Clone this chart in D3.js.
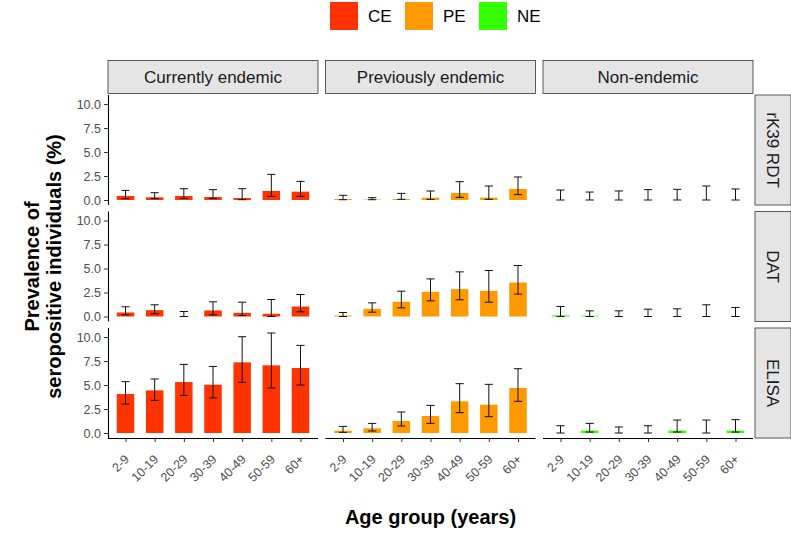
<!DOCTYPE html>
<html>
<head>
<meta charset="utf-8">
<script src="https://cdn.jsdelivr.net/npm/d3@7"></script>
<style>
  body { margin: 0; background: #fff; }
  text { font-family: "Liberation Sans", Arial, sans-serif; }
</style>
</head>
<body>
<script>
// ---- data ----
var ageGroups = ["2-9", "10-19", "20-29", "30-39", "40-49", "50-59", "60+"];
var regions = ["CE", "PE", "NE"];
var regionNames = ["Currently endemic", "Previously endemic", "Non-endemic"];
var tests = ["rK39 RDT", "DAT", "ELISA"];
var regionColors = ["#FF3300", "#FF9900", "#33FF00"];

// prevalence (%) per test, per region
var rk39Prev  = { CE: [0.42, 0.28, 0.42, 0.31, 0.21, 0.94, 0.87], PE: [0.10, 0.05, 0.10, 0.24, 0.73, 0.24, 1.15], NE: [0, 0, 0, 0, 0, 0, 0] };
var rk39Lower = { CE: [0.14, 0.14, 0.17, 0.17, 0.03, 0.38, 0.38], PE: [0.03, 0.03, 0.07, 0.07, 0.28, 0.07, 0.56], NE: [0, 0, 0, 0, 0, 0, 0] };
var rk39Upper = { CE: [1.00, 0.76, 1.18, 1.08, 1.18, 2.67, 1.94], PE: [0.49, 0.24, 0.69, 0.94, 1.91, 1.46, 2.40], NE: [1.04, 0.83, 0.94, 1.08, 1.11, 1.46, 1.15] };

var datPrev  = { CE: [0.42, 0.66, 0, 0.63, 0.38, 0.28, 1.04], PE: [0.10, 0.80, 1.53, 2.57, 2.85, 2.67, 3.54], NE: [0.12, 0.08, 0, 0, 0, 0, 0] };
var datLower = { CE: [0.17, 0.28, 0, 0.17, 0.10, 0, 0.49], PE: [0, 0.45, 0.90, 1.63, 1.74, 1.49, 2.33], NE: [0, 0, 0, 0, 0, 0, 0] };
var datUpper = { CE: [1.01, 1.22, 0.52, 1.53, 1.49, 1.77, 2.29], PE: [0.42, 1.42, 2.64, 3.92, 4.65, 4.79, 5.31], NE: [1.04, 0.59, 0.59, 0.76, 0.80, 1.22, 0.94] };

var elisaPrev  = { CE: [4.06, 4.44, 5.31, 5.03, 7.36, 7.05, 6.77], PE: [0.24, 0.49, 1.25, 1.77, 3.30, 2.95, 4.69], NE: [0, 0.25, 0, 0, 0.25, 0, 0.25] };
var elisaLower = { CE: [3.02, 3.40, 3.92, 3.65, 5.28, 4.69, 5.00], PE: [0.07, 0.21, 0.73, 1.00, 2.12, 1.70, 3.30], NE: [0, 0.10, 0, 0, 0.10, 0, 0.10] };
var elisaUpper = { CE: [5.35, 5.63, 7.15, 6.94, 10.03, 10.42, 9.13], PE: [0.69, 1.00, 2.19, 2.88, 5.14, 5.07, 6.70], NE: [0.76, 1.00, 0.63, 0.76, 1.35, 1.35, 1.39] };

var yTicks = [0, 2.5, 5, 7.5, 10];

var prevByTest = [rk39Prev, datPrev, elisaPrev];
var lowerByTest = [rk39Lower, datLower, elisaLower];
var upperByTest = [rk39Upper, datUpper, elisaUpper];

// ---- layout ----
var width = 791, height = 533;
var panelLeft = 108, panelW = 210, panelGapX = 7.5;
var panelTop = 95, panelH = 110, panelGapY = 6.5;
var stripH = 33, stripW = 36;

var svg = d3.select("body").append("svg")
  .attr("width", width).attr("height", height);

// shared y scale, with ggplot-like 5% expansion
var ymax = d3.max(upperByTest, function(t) { return d3.max(regions, function(r) { return d3.max(t[r]); }); });
var pad = ymax * 0.05;
var y = d3.scaleLinear().domain([-pad, ymax + pad]).range([panelH, 0]);

// discrete x, expand 0.6 of a unit on each side
var x = d3.scaleLinear().domain([0.4, ageGroups.length + 0.6]).range([0, panelW]);
var unit = x(2) - x(1);
var barW = unit * 0.6, capW = unit * 0.28;

regions.forEach(function(reg, ci) {
  var px = panelLeft + ci * (panelW + panelGapX);

  // top strip
  var st = svg.append("g").attr("transform", "translate(" + px + "," + (panelTop - 1.5 - stripH) + ")");
  st.append("rect").attr("width", panelW).attr("height", stripH)
    .attr("fill", "#E5E5E5").attr("stroke", "#333").attr("stroke-width", 0.8);
  st.append("text").attr("x", panelW / 2).attr("y", stripH / 2).attr("dy", "0.35em")
    .attr("text-anchor", "middle").attr("font-size", 17).attr("fill", "#1A1A1A")
    .text(regionNames[ci]);

  tests.forEach(function(test, ri) {
    var py = panelTop + ri * (panelH + panelGapY);
    var g = svg.append("g").attr("transform", "translate(" + px + "," + py + ")");
    var prev = prevByTest[ri][reg], lo = lowerByTest[ri][reg], hi = upperByTest[ri][reg];

    g.selectAll(".bar").data(prev).enter().append("rect")
      .attr("class", "bar")
      .attr("x", function(d, i) { return x(i + 1) - barW / 2; })
      .attr("width", barW)
      .attr("y", function(d) { return y(d); })
      .attr("height", function(d) { return y(0) - y(d); })
      .attr("fill", regionColors[ci]);

    var eb = g.selectAll(".err").data(ageGroups).enter().append("g").attr("class", "err")
      .attr("stroke", "#111").attr("stroke-width", 1).attr("fill", "none");
    eb.append("line")
      .attr("x1", function(d, i) { return x(i + 1); }).attr("x2", function(d, i) { return x(i + 1); })
      .attr("y1", function(d, i) { return y(lo[i]); }).attr("y2", function(d, i) { return y(hi[i]); });
    eb.append("line")
      .attr("x1", function(d, i) { return x(i + 1) - capW / 2; }).attr("x2", function(d, i) { return x(i + 1) + capW / 2; })
      .attr("y1", function(d, i) { return y(lo[i]); }).attr("y2", function(d, i) { return y(lo[i]); });
    eb.append("line")
      .attr("x1", function(d, i) { return x(i + 1) - capW / 2; }).attr("x2", function(d, i) { return x(i + 1) + capW / 2; })
      .attr("y1", function(d, i) { return y(hi[i]); }).attr("y2", function(d, i) { return y(hi[i]); });

    // y axis on first column
    if (ci === 0) {
      var ya = g.append("g").call(d3.axisLeft(y).tickValues(yTicks).tickSize(4).tickFormat(d3.format(".1f")));
      ya.select(".domain").attr("stroke", "#000").attr("stroke-width", 1.1)
        .attr("d", "M0.5," + panelH + "V0");
      ya.selectAll(".tick line").attr("stroke", "#333");
      ya.selectAll(".tick text").attr("fill", "#4D4D4D").attr("font-size", 12.5)
        .attr("font-family", "Liberation Sans, Arial, sans-serif");
    }

    // x axis on bottom row
    if (ri === tests.length - 1) {
      var xa = g.append("g").attr("transform", "translate(0," + panelH + ")")
        .call(d3.axisBottom(x).tickValues(d3.range(1, ageGroups.length + 1)).tickSize(4)
          .tickFormat(function(d) { return ageGroups[d - 1]; }));
      xa.select(".domain").attr("stroke", "#000").attr("stroke-width", 1.1)
        .attr("d", "M0,0.5H" + panelW);
      xa.selectAll(".tick line").attr("stroke", "#333");
      xa.selectAll(".tick text").attr("fill", "#4D4D4D").attr("font-size", 12.5)
        .attr("font-family", "Liberation Sans, Arial, sans-serif")
        .attr("text-anchor", "end").attr("dy", null).attr("y", null)
        .attr("transform", "translate(4,22) rotate(-45)");
    }

    // right strip on last column
    if (ci === regions.length - 1) {
      var rs = svg.append("g").attr("transform", "translate(" + (px + panelW + 2) + "," + py + ")");
      rs.append("rect").attr("width", stripW).attr("height", panelH)
        .attr("fill", "#E5E5E5").attr("stroke", "#333").attr("stroke-width", 0.8);
      rs.append("text").attr("transform", "translate(" + (stripW / 2) + "," + (panelH / 2) + ") rotate(90)")
        .attr("dy", "0.35em").attr("text-anchor", "middle").attr("font-size", 17).attr("fill", "#1A1A1A")
        .text(test);
    }
  });
});

// axis titles
var plotMidX = panelLeft + (3 * panelW + 2 * panelGapX) / 2;
var plotMidY = panelTop + (3 * panelH + 2 * panelGapY) / 2;
svg.append("text").attr("x", plotMidX).attr("y", 524).attr("text-anchor", "middle")
  .attr("font-size", 20).attr("font-weight", "bold").attr("fill", "#000").text("Age group (years)");
var yt = svg.append("text").attr("transform", "translate(39," + plotMidY + ") rotate(-90)")
  .attr("text-anchor", "middle").attr("font-size", 20).attr("font-weight", "bold").attr("fill", "#000");
yt.append("tspan").attr("x", 0).attr("y", 0).text("Prevalence of");
yt.append("tspan").attr("x", 0).attr("y", 22).text("seropositive individuals (%)");

// legend
var legendX = [330, 405, 479];
var lg = svg.append("g").selectAll("g").data(regions).enter().append("g")
  .attr("transform", function(d, i) { return "translate(" + legendX[i] + ",2)"; });
lg.append("rect").attr("width", 28).attr("height", 28)
  .attr("fill", function(d, i) { return regionColors[i]; });
lg.append("text").attr("x", 38).attr("y", 14).attr("dy", "0.35em")
  .attr("font-size", 17).attr("fill", "#000").text(function(d) { return d; });
</script>
</body>
</html>
